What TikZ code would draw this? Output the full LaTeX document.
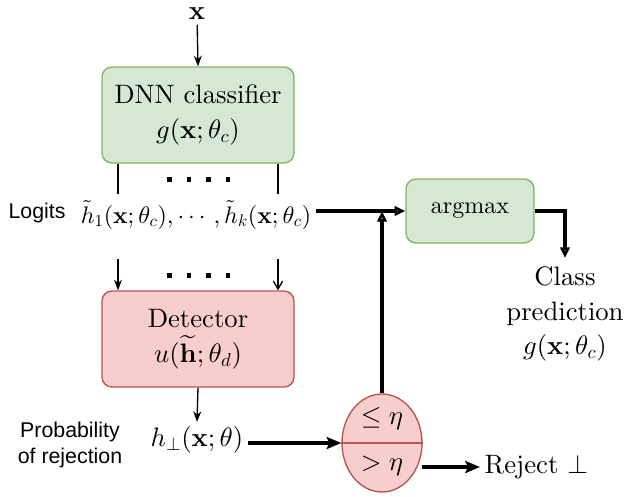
\documentclass[tikz,border=0pt]{standalone}
\usepackage{fontspec}
\usepackage{amsmath}
\setmainfont{lmroman10-regular.otf}[BoldFont=lmroman10-bold.otf,ItalicFont=lmroman10-italic.otf]
\newfontfamily\labelfont{Liberation Sans}
\DeclareFontShape{OML}{cmm}{m}{it}{<->cmmi10}{}
\DeclareFontShape{OML}{cmm}{b}{it}{<->cmmib10}{}
\DeclareFontShape{OMS}{cmsy}{m}{n}{<->cmsy10}{}
\DeclareFontShape{OT1}{cmr}{m}{n}{<->cmr10}{}
\DeclareFontShape{OT1}{cmr}{bx}{n}{<->cmbx10}{}
\usetikzlibrary{arrows.meta}
\usetikzlibrary{shapes.geometric}

\definecolor{dnnfill}{HTML}{D5E8D4}
\definecolor{dnnedge}{HTML}{82B366}
\definecolor{detfill}{HTML}{F8CECC}
\definecolor{detedge}{HTML}{B85450}

\begin{document}
\begin{tikzpicture}[x=0.75pt,y=-0.75pt,
    bigtext/.style={font=\fontsize{20}{26}\selectfont,align=center},
    midtext/.style={font=\fontsize{18}{22}\selectfont},
    sidelabel/.style={font=\labelfont\fontsize{16}{19.5}\selectfont,align=center},
    dnnbox/.style={draw=dnnedge,fill=dnnfill,line width=1pt,rounded corners=7.5pt},
    detbox/.style={draw=detedge,fill=detfill,line width=1pt,rounded corners=7.5pt},
    thinline/.style={line width=1pt},
    thinarrow/.style={line width=1pt,-{Stealth[length=8pt,width=6pt]}},
    openarrow/.style={line width=1pt,-{Straight Barb[length=6pt,width=7pt]}},
    thickarrow/.style={line width=2.4pt,-{Triangle[open,length=8pt,width=7pt]}},
    fullarrow/.style={line width=2.4pt,-{Stealth[length=11pt,width=9pt,inset=2pt]}}]
    \useasboundingbox (0,0) rectangle (626,497);

    % Input and classifier:
    \node [bigtext] (xin) at (197,14) {$\mathbf{x}$};
    \node [dnnbox,bigtext,minimum width=144pt,minimum height=72pt] (dnn) at (198,115)
        {DNN classifier\\$g(\mathbf{x};\theta_c)$};
    \draw [thinarrow] (xin) -- (dnn.north);

    % Logits:
    \node [sidelabel] (logitlabel) at (37,213) {Logits};
    \node [midtext] (logits) at (196,215)
        {$\tilde{h}_1(\mathbf{x};\theta_c),\cdots,\tilde{h}_k(\mathbf{x};\theta_c)$};
    \coordinate (tapl) at (118,194);
    \coordinate (tapr) at (278,194);
    \draw [thinline] (tapl |- dnn.south) -- (tapl);
    \draw [thinline] (tapr |- dnn.south) -- (tapr);

    % Detector:
    \node [detbox,bigtext,minimum width=144pt,minimum height=72pt] (det) at (198,339)
        {Detector\\$u(\widetilde{\mathbf{h}};\theta_d)$};
    \coordinate (feedl) at (118,259);
    \coordinate (feedr) at (278,259);
    \draw [thinarrow] (feedl) -- (feedl |- det.north);
    \draw [openarrow] (feedr) -- (feedr |- det.north);

    % Dots:
    \foreach \i in {0,...,3} {
        \fill (167+\i*19.5,177) rectangle ++(4.5,4.5);
        \fill (167+\i*19.5,273) rectangle ++(4.5,4.5);
    }

    % Rejection score:
    \node [bigtext] (hperp) at (197,440) {$h_\perp(\mathbf{x};\theta)$};
    \node [sidelabel] (problabel) at (70,445) {Probability\\of rejection};
    \draw [thinarrow] (det.south) -- (hperp.north);

    % Threshold:
    \node [ellipse,draw=detedge,fill=detfill,line width=1pt,inner sep=0pt,
        minimum width=60pt,minimum height=73.5pt] (gate) at (382,443) {};
    \draw [detedge,line width=1pt] (gate.west) -- (gate.east);
    \node [bigtext] (accept) at (382,419) {$\leq\eta$};
    \node [bigtext] (refuse) at (382,466) {$>\eta$};
    \draw [fullarrow] (hperp.east |- gate.west) -- (gate.west);

    % Argmax and outputs:
    \node [dnnbox,midtext,minimum width=96pt,minimum height=48pt] (argmax) at (470,211) {argmax};
    \draw [thickarrow] (logits.east |- argmax.west) -- (argmax.west);
    \draw [thickarrow] (gate.north) -- (gate.north |- argmax.west);
    \node [bigtext,anchor=north] (pred) at (565,262) {Class\\prediction\\$g(\mathbf{x};\theta_c)$};
    \coordinate (predtip) at (565,258);
    \draw [thickarrow] (argmax.east) -| (predtip);

    \node [bigtext,anchor=west] (reject) at (480,467) {Reject $\perp$};
    \coordinate (refuseout) at (422,467);
    \draw [fullarrow] (refuseout) -- (reject.west);
\end{tikzpicture}
\end{document}
